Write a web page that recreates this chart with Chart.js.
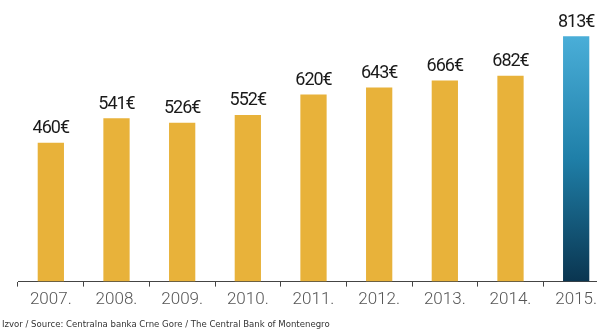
<!DOCTYPE html>
<html><head><meta charset="utf-8">
<script src="https://cdn.jsdelivr.net/npm/chart.js@4"></script>
<style>
html,body{margin:0;padding:0;background:#fff;overflow:hidden;width:597px;height:333px;}
#wrap{position:absolute;left:0;top:0;width:609px;height:333px;}
#src{position:absolute;left:2px;top:318px;font-family:"DejaVu Sans Condensed","DejaVu Sans",sans-serif;font-size:9.5px;color:#333;white-space:nowrap;}
</style></head>
<body>
<div id="wrap"><canvas id="c"></canvas></div>
<div id="src">Izvor / Source: Centralna banka Crne Gore / The Central Bank of Montenegro</div>
<script>
const categories = ["2007.","2008.","2009.","2010.","2011.","2012.","2013.","2014.","2015."];
const values = [460,541,526,552,620,643,666,682,813];
const valueLabels = ["460€","541€","526€","552€","620€","643€","666€","682€","813€"];

const labelPlugin = {
  id:'vlabels',
  afterDatasetsDraw(chart){
    const ctx = chart.ctx;
    const meta = chart.getDatasetMeta(0);
    ctx.save();
    ctx.font = '400 18px "Roboto", sans-serif';
    try{ ctx.letterSpacing = '-1px'; }catch(e){}
    ctx.fillStyle = '#1a1a1a';
    ctx.textAlign = 'center';
    ctx.textBaseline = 'bottom';
    meta.data.forEach((bar,i)=>{
      ctx.fillText(valueLabels[i], bar.x, bar.y - 5);
    });
    ctx.restore();
  }
};

new Chart(document.getElementById('c'),{
  type:'bar',
  data:{labels:categories,datasets:[{
    data:values,
    backgroundColor(ctx){
      if(ctx.dataIndex === categories.length-1){
        const ca = ctx.chart.chartArea;
        if(!ca) return '#2a8ab8';
        const g = ctx.chart.ctx.createLinearGradient(0,ca.top+36,0,ca.bottom);
        g.addColorStop(0,'#4aaed8');
        g.addColorStop(0.5,'#1f7fa8');
        g.addColorStop(1,'#0a3550');
        return g;
      }
      return '#e8b23a';
    },
    categoryPercentage:1,
    barPercentage:0.4
  }]},
  options:{
    responsive:true,maintainAspectRatio:false,animation:false,
    layout:{padding:{left:18,right:0,top:0,bottom:20}},
    plugins:{legend:{display:false},tooltip:{enabled:false}},
    scales:{
      y:{display:false,min:0,max:933},
      x:{
        grid:{display:true,drawOnChartArea:false,tickLength:5,color:'#444',offset:true},
        border:{display:true,color:'#444'},
        ticks:{color:'#555',padding:3,font:{family:'Roboto',weight:'300',size:17}}
      }
    }
  },
  plugins:[labelPlugin]
});
</script>
</body></html>
